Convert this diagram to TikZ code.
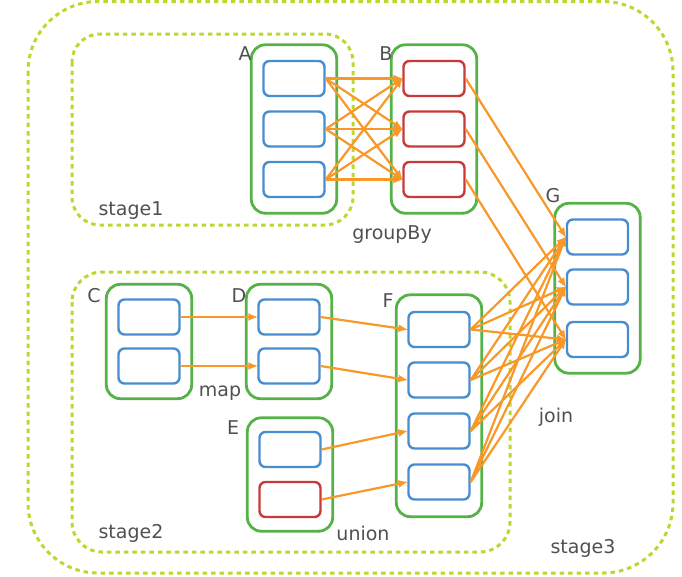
\documentclass[tikz,border=0pt]{standalone}
\usepackage{fontspec}
\setmainfont{DejaVu Sans}
\usetikzlibrary{fit,arrows.meta}
\definecolor{grpgreen}{RGB}{84,178,70}
\definecolor{partblue}{RGB}{72,142,206}
\definecolor{partred}{RGB}{200,58,58}
\definecolor{flow}{RGB}{247,152,40}
\definecolor{stage}{RGB}{190,214,48}
\definecolor{txt}{RGB}{80,80,80}
\tikzset{
	part/.style={draw=partblue, fill=white, rounded corners=6pt, line width=2.4pt, minimum width=61pt, minimum height=35pt, inner sep=0pt},
	redpart/.style={part, draw=partred},
	grp/.style={draw=grpgreen, rounded corners=14pt, line width=2.8pt, inner xsep=11pt, inner ysep=15pt},
	stagebox/.style={draw=stage, line width=3pt, dash pattern=on 4.5pt off 4pt},
	lbl/.style={text=txt, font=\fontsize{19}{22}\selectfont, inner sep=0pt},
	flowline/.style={color=flow, line width=2.2pt, -{Latex[length=10pt,width=8pt]}, shorten >=-1pt}
}

\begin{document}
\begin{tikzpicture}[x=1pt,y=-1pt]
				\useasboundingbox (0,0) rectangle (682,576);
				% stages
				\draw[stagebox, rounded corners=70pt] (28,1.5) rectangle (673,573);
				\draw[stagebox, rounded corners=28pt] (72,34) rectangle (353,225);
				\draw[stagebox, rounded corners=30pt] (72,272) rectangle (510,552);
				% partitions
				\node[part] (a1) at (294,78.5) {};
				\node[part] (a2) at (294,129) {};
				\node[part] (a3) at (294,179.5) {};
				\node[redpart] (b1) at (434,78.5) {};
				\node[redpart] (b2) at (434,129) {};
				\node[redpart] (b3) at (434,179.5) {};
				\node[part] (c1) at (149,317) {};
				\node[part] (c2) at (149,366) {};
				\node[part] (d1) at (289,317) {};
				\node[part] (d2) at (289,366) {};
				\node[part] (e1) at (290,449.5) {};
				\node[redpart] (e2) at (290,499.5) {};
				\node[part] (f1) at (439,329.5) {};
				\node[part] (f2) at (439,380) {};
				\node[part] (f3) at (439,431) {};
				\node[part] (f4) at (439,482) {};
				\node[part] (g1) at (597.5,237) {};
				\node[part] (g2) at (597.5,287) {};
				\node[part] (g3) at (597.5,339.5) {};
				% RDDs
				\node[grp, fit=(a1)(a3)] (A) {};
				\node[grp, fit=(b1)(b3)] (B) {};
				\node[grp, fit=(c1)(c2), inner ysep=14pt] (C) {};
				\node[grp, fit=(d1)(d2), inner ysep=14pt] (D) {};
				\node[grp, fit=(e1)(e2), inner ysep=13pt] (E) {};
				\node[grp, fit=(f1)(f4), inner ysep=16pt] (F) {};
				\node[grp, fit=(g1)(g3), inner ysep=15pt] (G) {};
				% labels
				\node[lbl] (labA) at (245,54) {A};
				\node[lbl] (labB) at (386,54) {B};
				\node[lbl] (labC) at (94,296) {C};
				\node[lbl] (labD) at (239,296) {D};
				\node[lbl] (labE) at (233,428) {E};
				\node[lbl] (labF) at (388,301) {F};
				\node[lbl] (labG) at (553,196) {G};
				\node[lbl] (stage1) at (131,211) {stage1};
				\node[lbl] (stage2) at (131,533) {stage2};
				\node[lbl] (stage3) at (583,548) {stage3};
				\node[lbl] (groupBy) at (392,235) {groupBy};
				\node[lbl] (map) at (220,393) {map};
				\node[lbl] (union) at (363,533) {union};
				\node[lbl] (join) at (556,417) {join};
				% dependencies
				\path[flowline]
				(a1.east) edge (b1.west) (a1.east) edge (b2.west) (a1.east) edge (b3.west)
				(a2.east) edge (b1.west) (a2.east) edge (b2.west) (a2.east) edge (b3.west)
				(a3.east) edge (b1.west) (a3.east) edge (b2.west) (a3.east) edge (b3.west)
				(b1.east) edge (g1.west)
				(b2.east) edge (g2.west)
				(b3.east) edge (g3.west)
				(c1.east) edge (d1.west)
				(c2.east) edge (d2.west)
				(d1.east) edge (f1.west)
				(d2.east) edge (f2.west)
				(e1.east) edge (f3.west)
				(e2.east) edge (f4.west)
				(f1.east) edge (g1.west) (f1.east) edge (g2.west) (f1.east) edge (g3.west)
				(f2.east) edge (g1.west) (f2.east) edge (g2.west) (f2.east) edge (g3.west)
				(f3.east) edge (g1.west) (f3.east) edge (g2.west) (f3.east) edge (g3.west)
				(f4.east) edge (g1.west) (f4.east) edge (g2.west) (f4.east) edge (g3.west);
			\end{tikzpicture}
\end{document}
